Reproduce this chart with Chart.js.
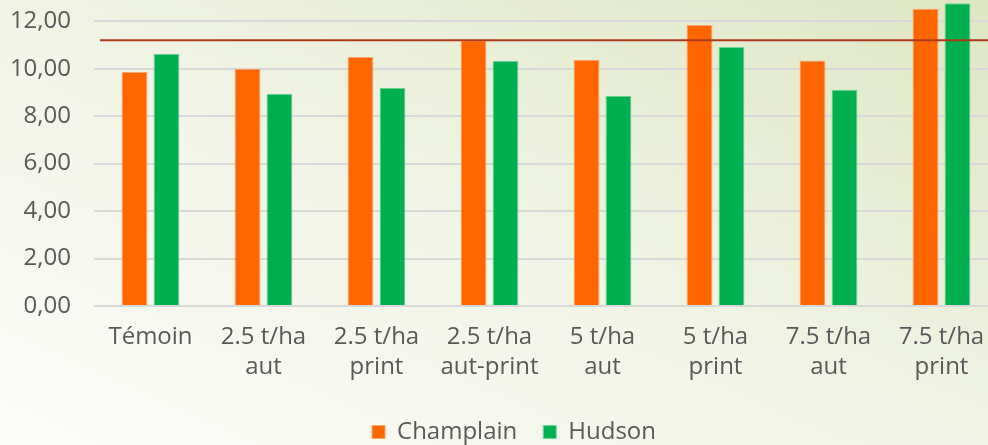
<!DOCTYPE html>
<html>
<head>
<meta charset="utf-8">
<script src="https://cdn.jsdelivr.net/npm/chart.js@4.4.1/dist/chart.umd.min.js"></script>
<style>
    html, body {
        margin: 0;
        padding: 0;
        width: 988px;
        height: 445px;
        overflow: hidden;
        background: linear-gradient(to top right, #fcfcf9 0%, #f2f5e8 45%, #dee6c4 100%);
    }
    /* the chart is cut at the top and right, like the reference */
    #wrap {
        position: absolute;
        left: 0;
        top: -63px;
        width: 998px;
        height: 517px;
    }
</style>
</head>
<body>
<div id="wrap"><canvas id="chart_1"></canvas></div>
<script>
// données
var categories = [
    "Témoin",
    ["2.5 t/ha", "aut"],
    ["2.5 t/ha", "print"],
    ["2.5 t/ha", "aut-print"],
    ["5 t/ha", "aut"],
    ["5 t/ha", "print"],
    ["7.5 t/ha", "aut"],
    ["7.5 t/ha", "print"]
];
var champlain = [9.86, 10.00, 10.49, 11.20, 10.38, 11.84, 10.35, 12.53];
var hudson = [10.63, 8.94, 9.20, 10.34, 8.86, 10.91, 9.11, 12.76];
var seuil = 11.2;

var greyText = '#595959';

// ligne horizontale du seuil, par-dessus les barres
var seuilLine = {
    id: 'seuilLine',
    afterDatasetsDraw: function (chart) {
        var ctx = chart.ctx;
        var area = chart.chartArea;
        var y = chart.scales.y.getPixelForValue(seuil);
        ctx.save();
        ctx.strokeStyle = '#b0381a';
        ctx.lineWidth = 2;
        ctx.beginPath();
        ctx.moveTo(area.left + 6, y);
        ctx.lineTo(area.right, y);
        ctx.stroke();
        ctx.restore();
    }
};

// la légende est un peu décalée vers la droite dans l'original
var legendShift = {
    id: 'legendShift',
    afterLayout: function (chart) {
        chart.legend.left += 15;
        chart.legend.right += 15;
    }
};

var ctx1 = document.getElementById("chart_1").getContext("2d");
var barChart = new Chart(ctx1, {
    type: 'bar',
    data: {
        labels: categories,
        datasets: [
            {
                label: "Champlain",
                data: champlain,
                backgroundColor: "#ff6600",
                borderColor: "#ffa46a",
                borderWidth: 1
            },
            {
                label: "Hudson",
                data: hudson,
                backgroundColor: "#00b050",
                borderColor: "#6fd498",
                borderWidth: 1
            }
        ]
    },
    options: {
        animation: false,
        responsive: true,
        maintainAspectRatio: false,
        categoryPercentage: 0.566,
        barPercentage: 0.81,
        layout: {
            padding: {top: 14, left: 0, right: 0, bottom: 0}
        },
        plugins: {
            legend: {
                position: 'bottom',
                labels: {
                    boxWidth: 13,
                    boxHeight: 13,
                    padding: 26,
                    color: greyText,
                    font: {family: "'Open Sans'", size: 24}
                }
            },
            tooltip: {enabled: false}
        },
        scales: {
            x: {
                grid: {display: false},
                border: {display: false},
                ticks: {
                    color: greyText,
                    padding: 8,
                    maxRotation: 0,
                    autoSkip: false,
                    font: {family: "'Open Sans'", size: 24, lineHeight: 1.25}
                },
                afterFit: function (scale) {
                    scale.height += 4;
                }
            },
            y: {
                min: 0,
                max: 14,
                grid: {
                    color: '#d9d9d9',
                    lineWidth: 2,
                    drawTicks: false
                },
                border: {display: false},
                ticks: {
                    stepSize: 2,
                    color: greyText,
                    padding: 23,
                    font: {family: "'Open Sans'", size: 24, lineHeight: 1.15},
                    callback: function (v) {
                        return v.toFixed(2).replace('.', ',');
                    }
                },
                afterFit: function (scale) {
                    scale.width = 94;
                }
            }
        }
    },
    plugins: [seuilLine, legendShift]
});
</script>
</body>
</html>
